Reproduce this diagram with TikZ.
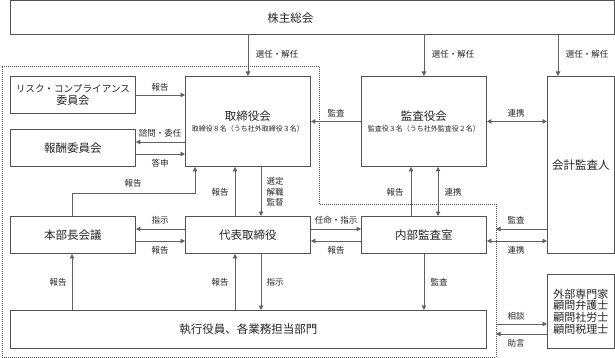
\documentclass[tikz,border=0pt]{standalone}
\usepackage{fontspec}
\setmainfont{Noto Sans CJK JP}
\usetikzlibrary{arrows.meta}
\definecolor{boxc}{gray}{0.32}
\definecolor{linec}{gray}{0.38}
\definecolor{txt}{gray}{0.15}
\definecolor{dotc}{gray}{0.3}
\begin{document}
\begin{tikzpicture}[x=1pt,y=-1pt,
  box/.style={draw=boxc, line width=0.9pt, fill=white, inner sep=0pt, anchor=north west,
    font=\fontsize{11.5}{13}\selectfont, text=txt, align=center},
  lab/.style={font=\fontsize{8.5}{10.4}\selectfont, text=txt, inner sep=0pt, align=center},
  tipa/.tip={Triangle[width=4.5pt,length=4.5pt]},
  arr/.style={draw=linec, line width=0.9pt, -tipa},
  darr/.style={draw=linec, line width=0.9pt, tipa-tipa},
  region/.style={draw=dotc, line width=0.8pt, dash pattern=on 0.9pt off 1.1pt},
]
\useasboundingbox (0,0) rectangle (615,358);

% dotted region
\coordinate (r1) at (2,66);
\coordinate (r2) at (319,66);
\coordinate (r3) at (319,204);
\coordinate (r4) at (496,204);
\coordinate (r5) at (496,357);
\coordinate (r6) at (2,357);
\draw[region] (r1) -- (r2) -- (r3) -- (r4) -- (r5) -- (r6) -- cycle;

% boxes
\node[box, minimum width=604pt, minimum height=33.5pt] (agm) at (10,0.5) {\hspace*{-44pt}株主総会};
\node[box, minimum width=125pt, minimum height=37pt] (risk) at (10,76)
  {{\fontsize{9.6}{11}\selectfont リスク・コンプライアンス}\\[-0.5pt]{\fontsize{11}{12}\selectfont 委員会}};
\node[box, minimum width=125pt, minimum height=37pt] (comp) at (10,129) {報酬委員会};
\node[box, minimum width=125pt, minimum height=90pt] (board) at (185,76)
  {取締役会\\[-2.5pt]{\fontsize{7}{8}\selectfont 取締役８名（うち社外取締役３名）}};
\node[box, minimum width=125pt, minimum height=90pt] (kansa) at (361,76)
  {監査役会\\[-2.5pt]{\fontsize{7}{8}\selectfont 監査役３名（うち社外監査役２名）}};
\node[box, minimum width=67pt, minimum height=177pt] (ca) at (547,76) {会計監査人};
\node[box, minimum width=125pt, minimum height=37pt] (hq) at (10,216) {本部長会議};
\node[box, minimum width=125pt, minimum height=37pt] (ceo) at (185,216) {代表取締役};
\node[box, minimum width=125pt, minimum height=37pt] (ia) at (361,216) {内部監査室};
\node[box, minimum width=476pt, minimum height=38pt] (exec) at (10,310) {執行役員、各業務担当部門};
\node[box, minimum width=67pt, minimum height=74pt, font=\fontsize{11}{11.6}\selectfont] (ext) at (547,274)
  {外部専門家\\顧問弁護士\\顧問社労士\\顧問税理士};

% free ends on the dotted border
\coordinate (d1) at (496,229);
\coordinate (d2) at (496,324);
\coordinate (d3) at (496,334);

% connectors from 株主総会
\draw[arr] (board.north |- agm.south) -- (board.north);
\draw[arr] (kansa.north |- agm.south) -- (kansa.north);
\draw[arr] (558,0 |- agm.south) -- (558,0 |- ca.north);

% left committees
\draw[arr] (risk.east |- 0,95) -- (board.west |- 0,95);
\draw[arr] (board.west |- 0,142) -- (comp.east |- 0,142);
\draw[arr] (comp.east |- 0,154) -- (board.west |- 0,154);

% audit board
\draw[arr] (kansa.west) -- (board.east |- kansa.west);
\draw[darr] (kansa.east) -- (ca.west |- kansa.east);

% board <-> ceo / hq
\draw[arr] (72,0 |- hq.north) -- (72,193) -- (195,193) -- (195,0 |- board.south);
\draw[arr] (235,0 |- ceo.north) -- (235,0 |- board.south);
\draw[arr] (261,0 |- board.south) -- (261,0 |- ceo.north);

% middle row
\draw[arr] (ceo.west |- 0,229) -- (hq.east |- 0,229);
\draw[arr] (hq.east |- 0,241) -- (ceo.west |- 0,241);
\draw[arr] (ceo.east |- 0,229) -- (ia.west |- 0,229);
\draw[arr] (ia.west |- 0,241) -- (ceo.east |- 0,241);
\draw[arr] (411,0 |- ia.north) -- (411,0 |- kansa.south);
\draw[darr] (438,0 |- kansa.south) -- (438,0 |- ia.north);
\draw[arr] (ca.west |- d1) -- (d1);
\draw[darr] (ia.east |- 0,241) -- (ca.west |- 0,241);

% bottom
\draw[arr] (72,0 |- exec.north) -- (72,0 |- hq.south);
\draw[arr] (235,0 |- exec.north) -- (235,0 |- ceo.south);
\draw[arr] (261,0 |- ceo.south) -- (261,0 |- exec.north);
\draw[arr] (ia.south) -- (ia.south |- exec.north);
\draw[arr] (d2) -- (ext.west |- d2);
\draw[arr] (ext.west |- d3) -- (d3);

% labels
\node[lab] (l1) at (277,54) {選任・解任};
\node[lab] (l2) at (453,54) {選任・解任};
\node[lab] (l3) at (587,54) {選任・解任};
\node[lab] (l4) at (160,87) {報告};
\node[lab] (l5) at (160,133) {諮問・委任};
\node[lab] (l6) at (160,163) {答申};
\node[lab] (l7) at (336,113) {監査};
\node[lab] (l8) at (516,113) {連携};
\node[lab] (l9) at (133,183) {報告};
\node[lab] (l10) at (220,192) {報告};
\node[lab] (l11) at (275,192) {選定\\解職\\監督};
\node[lab] (l12) at (160,220) {指示};
\node[lab] (l13) at (160,250) {報告};
\node[lab] (l14) at (336,220) {任命・指示};
\node[lab] (l15) at (336,250) {報告};
\node[lab] (l16) at (395,192) {報告};
\node[lab] (l17) at (453,192) {連携};
\node[lab] (l18) at (516,220) {監査};
\node[lab] (l19) at (516,250) {連携};
\node[lab] (l20) at (58,282) {報告};
\node[lab] (l21) at (220,282) {報告};
\node[lab] (l22) at (275,282) {指示};
\node[lab] (l23) at (439,282) {監査};
\node[lab] (l24) at (516,316) {相談};
\node[lab] (l25) at (516,343) {助言};
\end{tikzpicture}
\end{document}
